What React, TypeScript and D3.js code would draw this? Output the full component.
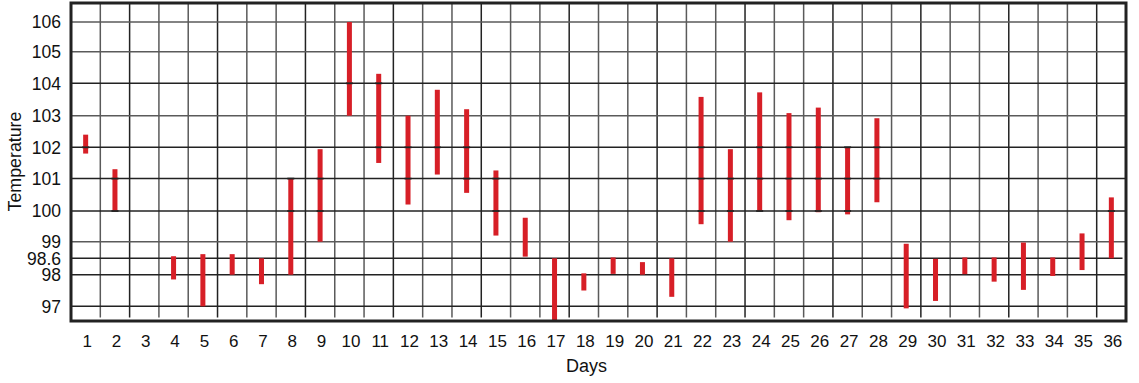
import React from "react";
import * as d3 from "d3";

const days: number[] = Array.from({ length: 36 }, (_, i) => i + 1);
const lows: (number | null)[] = [
  101.8, 100.0, null, 97.85, 97.0, 98.0, 97.7, 98.0, 99.0, 103.0,
  101.5, 100.2, 101.13, 100.56, 99.2, 98.64, 96.5, 97.5, 98.03, 98.0,
  97.3, 99.57, 99.0, 100.0, 99.7, 99.96, 99.89, 100.27, 96.93, 97.17,
  98.02, 97.78, 97.52, 97.96, 98.17, 98.6,
];
const highs: (number | null)[] = [
  102.4, 101.3, null, 98.65, 98.7, 98.7, 98.6, 101.0, 101.94, 106.0,
  104.3, 103.0, 103.8, 103.2, 101.26, 99.78, 98.6, 98.05, 98.62, 98.46,
  98.6, 103.58, 101.94, 103.72, 103.08, 103.25, 102.0, 102.92, 98.95, 98.58,
  98.62, 98.62, 98.98, 98.62, 99.27, 100.42,
];
const yTicks: number[] = [97, 98, 98.6, 99, 100, 101, 102, 103, 104, 105, 106];
const markLevels: number[] = [100, 101, 102, 104];
const xTitle = "Days";
const yTitle = "Temperature";

const W = 1139;
const H = 383;
const left = 71;
const right = 1126;
const top = 3;
const bottom = 321;

export default function App() {
  const x = d3.scaleBand<number>().domain(days).range([left, right]).padding(0);
  const y = d3
    .scaleLinear()
    .domain([96.5, 97, 98, 98.6, 99, 100, 101, 102, 103, 104, 105, 106, 106.6])
    .range([321, 306.3, 274.7, 258.3, 241.7, 211, 178.6, 147.3, 115.7, 83.3, 51.7, 22, 3]);

  const bw = 5;
  const font = "Liberation Sans, Arial, Helvetica, sans-serif";

  const bars = days
    .map((d, i) => ({ d, lo: lows[i], hi: highs[i] }))
    .filter((b) => b.lo != null && b.hi != null) as { d: number; lo: number; hi: number }[];

  return (
    <svg
      width={W}
      height={H}
      style={{ position: "absolute", left: 0, top: 0, background: "#fff" }}
    >
      <rect x={0} y={0} width={W} height={H} fill="#fff" />
      {days.slice(1).map((d) => (
        <line
          key={"v" + d}
          x1={x(d)!}
          x2={x(d)!}
          y1={top}
          y2={317.5}
          stroke={d % 3 === 0 ? "#222" : "#5a5a5a"}
          strokeWidth={1.5}
        />
      ))}
      {yTicks.map((t) => (
        <line
          key={"h" + t}
          x1={left}
          x2={t === 98.6 ? 1122.5 : right}
          y1={y(t)}
          y2={y(t)}
          stroke={[105, 103, 99, 106].includes(t) ? "#5a5a5a" : "#222"}
          strokeWidth={1.5}
        />
      ))}
      {bars.map((b) => (
        <rect
          key={"b" + b.d}
          x={x(b.d)! + x.bandwidth() / 2 - bw / 2}
          y={y(b.hi)}
          width={bw}
          height={Math.max(0, y(b.lo) - y(b.hi))}
          fill="#d71f27"
        />
      ))}
      {bars.flatMap((b) =>
        markLevels
          .filter((m) => m >= b.lo - 0.03 && m <= b.hi + 0.03)
          .map((m) => (
            <rect
              key={"m" + b.d + "-" + m}
              x={x(b.d)! + x.bandwidth() / 2 - 3.5}
              y={y(m) - 0.9}
              width={7}
              height={1.8}
              fill="#222"
            />
          ))
      )}
      <rect
        x={left}
        y={top}
        width={right - left}
        height={bottom - top}
        fill="none"
        stroke="#222"
        strokeWidth={3}
      />
      {yTicks.map((t) => (
        <text
          key={"yl" + t}
          x={61}
          y={y(t)}
          dy="0.36em"
          textAnchor="end"
          fontFamily={font}
          fontSize={17.5}
          fill="#111"
        >
          {String(t)}
        </text>
      ))}
      {days.map((d) => (
        <text
          key={"xl" + d}
          x={x(d)! + x.bandwidth() / 2 + 1.5}
          y={346.5}
          textAnchor="middle"
          fontFamily={font}
          fontSize={17}
          fill="#111"
        >
          {d}
        </text>
      ))}
      <text
        x={586.5}
        y={372}
        textAnchor="middle"
        fontFamily={font}
        fontSize={18}
        fill="#111"
      >
        {xTitle}
      </text>
      <text
        transform={`translate(20.5,161.5) rotate(-90)`}
        textAnchor="middle"
        fontFamily={font}
        fontSize={17.8}
        fill="#111"
      >
        {yTitle}
      </text>
    </svg>
  );
}
